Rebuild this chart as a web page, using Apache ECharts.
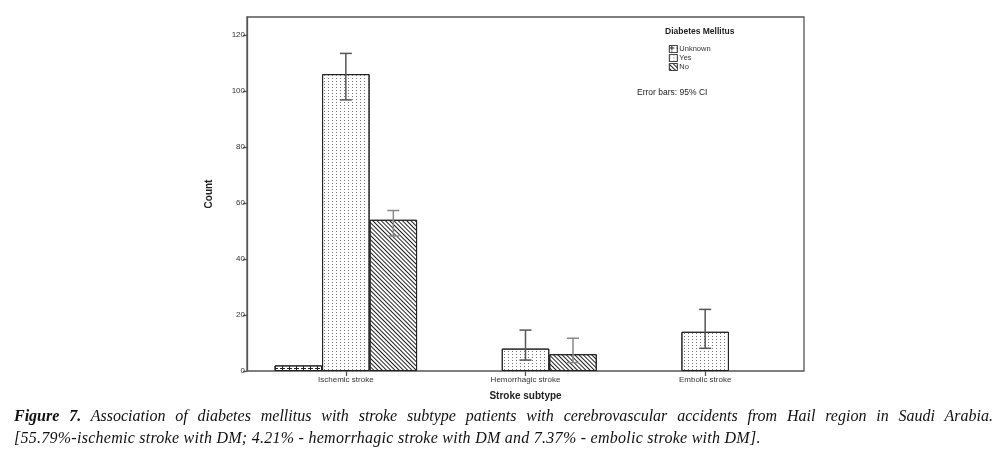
<!DOCTYPE html>
<html><head><meta charset="utf-8">
<script src="https://cdn.jsdelivr.net/npm/echarts@6/dist/echarts.min.js"></script>
<style>
html,body{margin:0;padding:0;background:#fff;}
#c{position:absolute;left:0;top:0;width:1008px;height:464px;}
.cap{position:absolute;left:14px;width:979px;font-family:"Liberation Serif","DejaVu Serif",serif;font-style:italic;font-size:16px;color:#111;white-space:nowrap;}
#l1{top:407px;text-align:justify;text-align-last:justify;white-space:normal;}
#l2{top:429px;letter-spacing:0.26px;}
</style></head>
<body>
<div id="c"></div>
<div class="cap" id="l1"><b>Figure 7.</b> Association of diabetes mellitus with stroke subtype patients with cerebrovascular accidents from Hail region in Saudi Arabia.</div>
<div class="cap" id="l2">[55.79%-ischemic stroke with DM; 4.21% - hemorrhagic stroke with DM and 7.37% - embolic stroke with DM].</div>
<script>
var categories = ['Ischemic stroke', 'Hemorrhagic stroke', 'Embolic stroke'];
var unknownCounts = [2, null, null];
var yesCounts = [106, 8, 14];
var noCounts = [54, 6, null];
var yesLow = [96.8, 3.9, 8.1];
var yesHigh = [113.4, 14.6, 22];
var noLow = [48.2, 3, null];
var noHigh = [57.3, 11.7, null];
var yTicks = [0, 20, 40, 60, 80, 100, 120];

var BW = 47.5;
var font = 'Liberation Sans, Arial, sans-serif';

function errData(low, high) {
  var d = [];
  for (var i = 0; i < categories.length; i++) {
    if (low[i] != null) d.push([i, low[i], high[i]]);
  }
  return d;
}
function errRender(offset, color) {
  return function (params, api) {
    var lo = api.coord([api.value(0), api.value(1)]);
    var hi = api.coord([api.value(0), api.value(2)]);
    var x = lo[0] + offset;
    var cap = 6;
    var s = {stroke: color, lineWidth: 1.5};
    return {type: 'group', children: [
      {type: 'line', shape: {x1: x, y1: lo[1], x2: x, y2: hi[1]}, style: s},
      {type: 'line', shape: {x1: x - cap, y1: lo[1], x2: x + cap, y2: lo[1]}, style: s},
      {type: 'line', shape: {x1: x - cap, y1: hi[1], x2: x + cap, y2: hi[1]}, style: s}
    ]};
  };
}

var chart = echarts.init(document.getElementById('c'), null, {renderer: 'canvas'});
chart.setOption({
  animation: false,
  backgroundColor: '#fff',
  grid: [
    {left: 256, width: 539, top: 17, height: 354},
    {left: 247, width: 557, top: 17, height: 354, show: true, borderColor: '#555', borderWidth: 1.3, backgroundColor: 'transparent'}
  ],
  xAxis: [
    {type: 'category', gridIndex: 0, data: categories,
     axisLine: {show: false},
     axisTick: {show: true, alignWithLabel: true, length: 5, lineStyle: {color: '#555', width: 1.3}},
     axisLabel: {fontFamily: font, fontSize: 8, color: '#333', margin: 5},
     name: 'Stroke subtype', nameLocation: 'middle', nameGap: 20,
     nameTextStyle: {fontFamily: font, fontSize: 10, fontWeight: 'bold', color: '#222'}},
    {type: 'value', gridIndex: 1, show: false, min: 0, max: 1}
  ],
  yAxis: [
    {type: 'value', gridIndex: 0, min: 0, max: 126.4, show: false},
    {type: 'value', gridIndex: 1, min: 0, max: 126.4, interval: 20,
     axisLine: {show: true, lineStyle: {color: '#555', width: 1.3}},
     axisTick: {show: true, length: 4, customValues: yTicks, lineStyle: {color: '#555', width: 1.3}},
     axisLabel: {fontFamily: font, fontSize: 8, color: '#333', margin: 2, customValues: yTicks},
     splitLine: {show: false},
     name: 'Count', nameLocation: 'middle', nameGap: 33,
     nameTextStyle: {fontFamily: font, fontSize: 10, fontWeight: 'bold', color: '#222'}}
  ],
  legend: {
    left: 664, top: 40, orient: 'vertical', itemWidth: 8, itemHeight: 7, itemGap: 1,
    icon: 'rect',
    itemStyle: {borderWidth: 0.7, borderColor: '#333'},
    textStyle: {fontFamily: font, fontSize: 7.5, color: '#333', padding: [0, 0, 0, -3]},
    data: ['Unknown', 'Yes', 'No']
  },
  graphic: [
    {type: 'text', left: 665, top: 27, style: {text: 'Diabetes Mellitus', font: 'bold 8.5px ' + font, fill: '#222'}},
    {type: 'text', left: 637, top: 88, style: {text: 'Error bars: 95% CI', font: '8.5px ' + font, fill: '#222'}}
  ],
  series: [
    {name: 'Unknown', type: 'bar', xAxisIndex: 0, yAxisIndex: 0, data: unknownCounts, barWidth: BW, barGap: '0%',
     itemStyle: {color: '#fff', borderColor: '#222', borderWidth: 1,
       decal: {symbol: 'path://M4,0H6V4H10V6H6V10H4V6H0V4H4Z', symbolSize: 1, dashArrayX: [5, 2], dashArrayY: [5, 1], color: '#222', rotation: 0}}},
    {name: 'Yes', type: 'bar', xAxisIndex: 0, yAxisIndex: 0, data: yesCounts, barWidth: BW, barGap: '0%',
     itemStyle: {color: '#fff', borderColor: '#222', borderWidth: 1,
       decal: {symbol: 'rect', symbolSize: 1, dashArrayX: [1, 3], dashArrayY: [1, 2], color: '#777', rotation: 0}}},
    {name: 'No', type: 'bar', xAxisIndex: 0, yAxisIndex: 0, data: noCounts, barWidth: BW, barGap: '0%',
     itemStyle: {color: '#fff', borderColor: '#222', borderWidth: 1,
       decal: {symbol: 'rect', symbolSize: 1, dashArrayX: [1, 0], dashArrayY: [1, 2], color: '#222', rotation: Math.PI / 4}}},
    {name: 'errYes', type: 'custom', xAxisIndex: 0, yAxisIndex: 0, data: errData(yesLow, yesHigh),
     renderItem: errRender(0, '#555'), z: 5, silent: true},
    {name: 'errNo', type: 'custom', xAxisIndex: 0, yAxisIndex: 0, data: errData(noLow, noHigh),
     renderItem: errRender(BW, '#888'), z: 5, silent: true}
  ]
});
</script>
</body></html>
